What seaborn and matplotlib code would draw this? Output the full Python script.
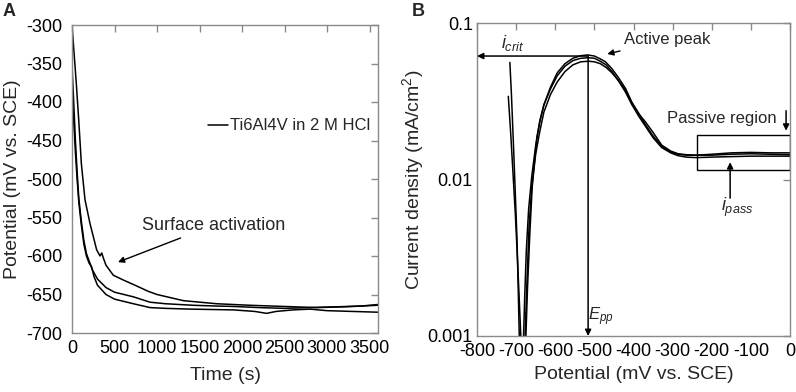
import numpy as np
import pandas as pd
import matplotlib
matplotlib.use("Agg")
import matplotlib.pyplot as plt
from matplotlib.patches import Rectangle
from matplotlib.ticker import FixedLocator, FixedFormatter, NullLocator
import seaborn as sns

# ---------------- Panel A data: open-circuit potential vs time ----------------
a1_t = [0, 20, 50, 80, 110, 153, 212, 290, 330, 350, 370, 400, 486, 600, 722,
        900, 1000, 1310, 1702, 2094, 2486, 2878, 3200, 3600]
a1_v = [-300, -330, -375, -425, -480, -527, -558, -592, -600, -596, -603, -612,
        -625, -631, -637, -646, -650, -658, -662, -664, -665.5, -667, -666, -664]

a2_t = [0, 20, 40, 60, 80, 110, 140, 170, 200, 240, 300, 400, 500, 722, 918,
        1100, 1427, 1700, 1897, 2200, 2500, 2800, 3100, 3400, 3600]
a2_v = [-352, -400, -450, -490, -525, -555, -580, -597, -606, -618, -630, -641,
        -647, -653, -660, -662, -664, -665, -665.5, -667, -668, -667, -666, -665, -663]

a3_t = [0, 20, 40, 60, 80, 110, 140, 170, 200, 230, 260, 300, 400, 500, 722,
        918, 1100, 1400, 1900, 2150, 2290, 2400, 2600, 2800, 3000, 3300, 3600]
a3_v = [-384, -425, -465, -500, -530, -560, -585, -600, -609, -614, -627, -638,
        -650, -656, -662, -667, -668, -669, -670, -672, -674.5, -672, -670, -669,
        -671, -672, -673]

# ---------------- Panel B data: potentiodynamic polarisation ----------------
b1_e = [-716, -712, -706, -702, -698, -695, -692, -688, -684, -681, -678, -674,
        -668, -660, -650, -640, -629, -612, -595, -575, -555, -535, -517, -500,
        -485, -472, -455, -439, -420, -404, -385, -370, -350, -328, -305, -286,
        -265, -240, -200, -150, -100, -50, 0]
b1_i = [0.056, 0.035, 0.0148, 0.008, 0.0043, 0.0022, 0.001, 0.0003, 0.0006,
        0.001, 0.0018, 0.0035, 0.0065, 0.0105, 0.0165, 0.023, 0.030, 0.039,
        0.048, 0.055, 0.0595, 0.0618, 0.0625, 0.0615, 0.059, 0.0566, 0.051,
        0.045, 0.038, 0.031, 0.026, 0.0234, 0.020, 0.0166, 0.0152, 0.0146,
        0.0144, 0.0143, 0.0145, 0.0148, 0.0149, 0.0148, 0.0148]

b2_e = [-720, -714, -708, -702, -697, -692, -688, -684, -680, -675, -671, -665,
        -659, -647, -639, -629, -612, -595, -575, -555, -535, -515, -500, -485,
        -470, -455, -439, -420, -404, -385, -370, -350, -328, -305, -286, -265,
        -240, -200, -150, -100, -50, 0]
b2_i = [0.034, 0.020, 0.011, 0.006, 0.0033, 0.0017, 0.001, 0.0003, 0.0006,
        0.001, 0.002, 0.0045, 0.0089, 0.0186, 0.024, 0.030, 0.038, 0.046,
        0.053, 0.0575, 0.0595, 0.060, 0.0595, 0.057, 0.054, 0.049, 0.043,
        0.036, 0.030, 0.025, 0.022, 0.0185, 0.016, 0.0148, 0.0142, 0.0139,
        0.0138, 0.0139, 0.0140, 0.0141, 0.0141, 0.0141]

b3_e = [-680, -677, -673, -667, -660, -650, -640, -629, -612, -595, -575, -555,
        -535, -515, -500, -485, -470, -455, -439, -420, -404, -385, -370, -350,
        -328, -305, -286, -265, -240, -200, -150, -100, -50, 0]
b3_i = [0.0004, 0.001, 0.002, 0.005, 0.009, 0.0145, 0.020, 0.027, 0.035, 0.042,
        0.049, 0.054, 0.0565, 0.057, 0.0565, 0.055, 0.052, 0.048, 0.043, 0.037,
        0.031, 0.026, 0.0225, 0.019, 0.0163, 0.0150, 0.0145, 0.0143, 0.0143,
        0.0143, 0.0145, 0.0146, 0.0145, 0.0144]

a_xticks = [0, 500, 1000, 1500, 2000, 2500, 3000, 3500]
a_yticks = [-700, -650, -600, -550, -500, -450, -400, -350, -300]
b_xticks = [-800, -700, -600, -500, -400, -300, -200, -100, 0]
b_yticks = [0.001, 0.01, 0.1]
b_ylabels = ["0.001", "0.01", "0.1"]

dfA = pd.concat([
    pd.DataFrame({"t": a1_t, "v": a1_v, "run": "1"}),
    pd.DataFrame({"t": a2_t, "v": a2_v, "run": "2"}),
    pd.DataFrame({"t": a3_t, "v": a3_v, "run": "3"}),
], ignore_index=True)
dfB = pd.concat([
    pd.DataFrame({"e": b1_e, "i": b1_i, "run": "1"}),
    pd.DataFrame({"e": b2_e, "i": b2_i, "run": "2"}),
    pd.DataFrame({"e": b3_e, "i": b3_i, "run": "3"}),
], ignore_index=True)

sns.set_theme(style="white")
plt.rcParams["font.family"] = ["Liberation Sans", "DejaVu Sans"]
plt.rcParams["axes.unicode_minus"] = False
plt.rcParams["mathtext.fontset"] = "custom"
plt.rcParams["mathtext.rm"] = "Liberation Sans"
plt.rcParams["mathtext.it"] = "Liberation Sans:italic"

GRAY = "#8a8a8a"
fig = plt.figure(figsize=(7.96, 3.92), dpi=100)
axA = fig.add_axes([72 / 796, 1 - 333 / 392, 306 / 796, 308 / 392])
axB = fig.add_axes([477 / 796, 1 - 336 / 392, 313 / 796, 313 / 392])

LW = 1.1
# ---------- Panel A ----------
sns.lineplot(data=dfA, x="t", y="v", units="run", estimator=None, sort=False,
             color="black", lw=LW, ax=axA, legend=False)
axA.plot([], [], color="black", lw=LW, label="Ti6Al4V in 2 M HCl")
axA.set_xlim(0, 3600)
axA.set_ylim(-700, -300)
axA.set_xticks(a_xticks)
axA.set_yticks(a_yticks)
axA.set_xlabel("Time (s)", fontsize=14)
axA.set_ylabel("Potential (mV vs. SCE)", fontsize=14)
axA.xaxis.set_label_coords(0.5, -(367 - 333) / 308)
axA.yaxis.set_label_coords(-(72 - 21) / 306, 0.5)
axA.legend(loc="center left", bbox_to_anchor=((208 - 72) / 306, (333 - 126) / 308),
           frameon=False, fontsize=12, handlelength=1.2, handletextpad=0.15,
           borderpad=0, borderaxespad=0)
axA.annotate("Surface activation", xy=(541, -608), xytext=(824, -560),
             fontsize=13, va="center", ha="left",
             arrowprops=dict(arrowstyle="-|>", color="black", lw=1,
                             mutation_scale=9, shrinkA=2, shrinkB=0))

# ---------- Panel B ----------
sns.lineplot(data=dfB, x="e", y="i", units="run", estimator=None, sort=False,
             color="black", lw=LW, ax=axB, legend=False)
axB.set_yscale("log")
axB.set_xlim(-800, 0)
axB.set_ylim(0.001, 0.1)
axB.set_xticks(b_xticks)
axB.yaxis.set_major_locator(FixedLocator(b_yticks))
axB.yaxis.set_major_formatter(FixedFormatter(b_ylabels))
axB.yaxis.set_minor_locator(NullLocator())
axB.set_xlabel("Potential (mV vs. SCE)", fontsize=14)
axB.set_ylabel("Current density (mA/cm$^2$)", fontsize=14)
axB.xaxis.set_label_coords(0.5, -(366 - 336) / 313)
axB.yaxis.set_label_coords(-(477 - 426) / 313, 0.5)

E_PEAK, I_PEAK = -516, 0.0615
arr = dict(arrowstyle="-|>", color="black", lw=1.1, mutation_scale=9,
           shrinkA=0, shrinkB=0)
axB.annotate("", xy=(-800, I_PEAK), xytext=(E_PEAK, I_PEAK), arrowprops=arr)
axB.annotate("", xy=(E_PEAK, 0.001), xytext=(E_PEAK, I_PEAK), arrowprops=arr)
axB.text(-710, 0.0745, "$i_{crit}$", fontsize=13, ha="center", va="center")
axB.text(-483, 0.00132, "$E_{pp}$", fontsize=12, ha="center", va="center")
axB.annotate("Active peak", xy=(-467, 0.0634), xytext=(-424, 0.078),
             fontsize=12, ha="left", va="center",
             arrowprops=dict(arrowstyle="-|>", color="black", lw=1,
                             mutation_scale=9, shrinkA=1, shrinkB=0))
axB.text(-314, 0.0245, "Passive region", fontsize=12, ha="left", va="center")
axB.annotate("", xy=(-10, 0.0205), xytext=(-10, 0.0275), arrowprops=arr)
axB.add_patch(Rectangle((-237, 0.0115), 237, 0.0192 - 0.0115, fill=False,
                        edgecolor="black", lw=1.0))
axB.annotate("", xy=(-153, 0.0129), xytext=(-153, 0.0076), arrowprops=arr)
axB.text(-135, 0.00667, "$i_{pass}$", fontsize=13, ha="center", va="center")

for ax in (axA, axB):
    for s in ax.spines.values():
        s.set_color(GRAY)
        s.set_linewidth(1.0)
    ax.tick_params(which="both", direction="in", length=5, width=1, color=GRAY,
                   top=True, right=True, labelsize=13, labelcolor="black")
    ax.tick_params(axis="x", pad=5)
axA.tick_params(axis="y", pad=7)
axB.tick_params(axis="y", pad=3)

fig.text(3 / 796, 1 - 12 / 392, "A", fontsize=13, fontweight="bold", va="center")
fig.text(412 / 796, 1 - 12 / 392, "B", fontsize=13, fontweight="bold", va="center")

fig.savefig("out.png", dpi=100)
